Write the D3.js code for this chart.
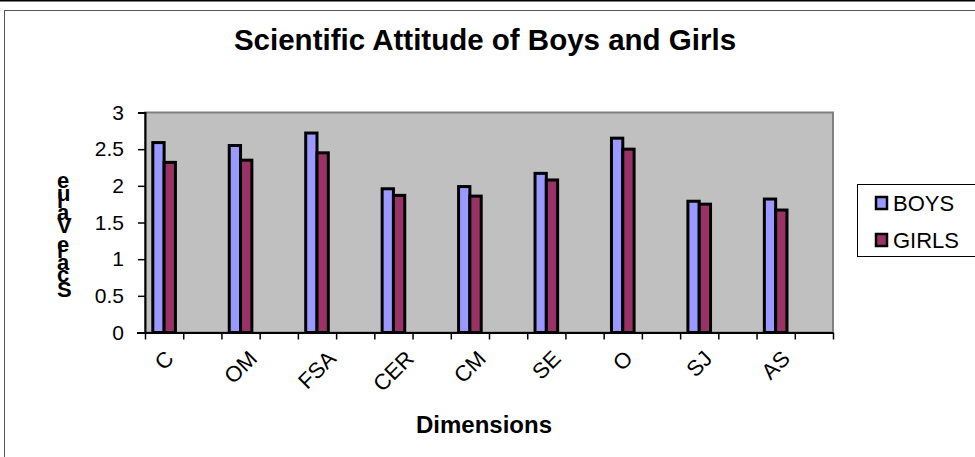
<!DOCTYPE html>
<html>
<head>
<meta charset="utf-8">
<script src="https://cdn.jsdelivr.net/npm/d3@7"></script>
<style>
  html, body { margin: 0; padding: 0; background: #fff; }
  svg { display: block; font-family: Arial, "Liberation Sans", sans-serif; }
</style>
</head>
<body>
<svg id="chart" width="975" height="457"></svg>
<script>
// data
const categories = ["C", "OM", "FSA", "CER", "CM", "SE", "O", "SJ", "AS"];
const seriesNames = ["BOYS", "GIRLS"];
const boys = [2.59, 2.55, 2.72, 1.96, 1.99, 2.17, 2.65, 1.79, 1.82];
const girls = [2.32, 2.35, 2.45, 1.87, 1.86, 2.08, 2.50, 1.75, 1.67];
const yTicks = [0, 0.5, 1, 1.5, 2, 2.5, 3];
const colors = ["#9999ff", "#993366"];

const svg = d3.select("#chart");

// outer frame
svg.append("line").attr("x1", 0).attr("x2", 975).attr("y1", 0.75).attr("y2", 0.75)
  .attr("stroke", "#000").attr("stroke-width", 1.5);
svg.append("rect").attr("x", 4.5).attr("y", 10.5).attr("width", 1000).attr("height", 500)
  .attr("fill", "#fff").attr("stroke", "#555").attr("stroke-width", 1);

const plot = { left: 145, right: 833, top: 112.5, bottom: 332.5 };

// each category is followed by an empty slot (as in the original sheet)
const slots = categories.flatMap((c, i) => [c, "_gap" + i]);

const x = d3.scaleBand().domain(slots).range([plot.left, plot.right]).padding(0);
const xSub = d3.scaleBand().domain(seriesNames).range([0, x.bandwidth()])
  .paddingInner(0).paddingOuter(0.69);
const y = d3.scaleLinear().domain([0, 3]).range([plot.bottom, plot.top]);

// plot area
svg.append("rect")
  .attr("x", plot.left).attr("y", plot.top)
  .attr("width", plot.right - plot.left).attr("height", plot.bottom - plot.top)
  .attr("fill", "#c0c0c0").attr("stroke", "#808080").attr("stroke-width", 2);

// bars
const rows = categories.map((c, i) => ({ cat: c, values: [boys[i], girls[i]] }));
const groups = svg.append("g").selectAll("g")
  .data(rows)
  .join("g")
  .attr("transform", d => `translate(${x(d.cat)},0)`);

groups.selectAll("rect")
  .data(d => d.values.map((v, k) => ({ name: seriesNames[k], v: v, k: k })))
  .join("rect")
  .attr("x", d => xSub(d.name))
  .attr("y", d => y(d.v))
  .attr("width", xSub.bandwidth())
  .attr("height", d => y(0) - y(d.v))
  .attr("fill", d => colors[d.k])
  .attr("stroke", "#000")
  .attr("stroke-width", 3)
  .attr("stroke-linejoin", "miter");

// y axis
const yAxis = svg.append("g")
  .attr("transform", `translate(${plot.left},0)`)
  .call(d3.axisLeft(y).tickValues(yTicks).tickFormat(d3.format("")).tickSize(7).tickPadding(14));
yAxis.select(".domain").attr("stroke", "#000").attr("stroke-width", 2);
yAxis.selectAll(".tick line").attr("stroke", "#000").attr("stroke-width", 1.5);
yAxis.selectAll(".tick text").attr("font-size", 21).attr("fill", "#000")
  .attr("font-family", "Arial, 'Liberation Sans', sans-serif");

// x axis: tick marks at every slot boundary
const xEdges = d3.scaleLinear().domain([0, slots.length]).range([plot.left, plot.right]);
const xAxis = svg.append("g")
  .attr("transform", `translate(0,${plot.bottom})`)
  .call(d3.axisBottom(xEdges).tickValues(d3.range(slots.length + 1)).tickFormat("").tickSize(7).tickSizeOuter(0));
xAxis.select(".domain").attr("stroke", "#000").attr("stroke-width", 2)
  .attr("d", `M${plot.left - 8},0.5H${plot.right}`);
xAxis.selectAll(".tick line").attr("stroke", "#000").attr("stroke-width", 1.5);

// rotated category labels
const labels = svg.append("g").selectAll("text")
  .data(categories)
  .join("text")
  .attr("font-size", 22)
  .attr("fill", "#000")
  .attr("text-anchor", "middle")
  .attr("dominant-baseline", "central")
  .text(d => d);
labels.attr("transform", function(d) {
  const L = this.getComputedTextLength();
  const h = 16;
  const cx = x(d) + x.bandwidth() / 2;
  const cy = 349 + (L + h) * 0.3536;
  return `translate(${cx},${cy}) rotate(-45)`;
});

// titles
svg.append("text")
  .attr("x", 485).attr("y", 50)
  .attr("text-anchor", "middle")
  .attr("font-size", 29.5).attr("font-weight", "bold")
  .text("Scientific Attitude of Boys and Girls");

svg.append("text")
  .attr("x", 484).attr("y", 433)
  .attr("text-anchor", "middle")
  .attr("font-size", 24).attr("font-weight", "bold")
  .text("Dimensions");

// y title: upright glyphs running bottom to top, as in the original
svg.append("text")
  .attr("transform", "translate(57,297) rotate(-90)")
  .attr("rotate", 90)
  .attr("font-size", 22).attr("font-weight", "bold")
  .text("Scale Value");

// legend
const legend = svg.append("g");
legend.append("rect")
  .attr("x", 857.5).attr("y", 184.5).attr("width", 140).attr("height", 72)
  .attr("fill", "#fff").attr("stroke", "#000").attr("stroke-width", 1);
const items = legend.selectAll("g")
  .data(seriesNames)
  .join("g")
  .attr("transform", (d, i) => `translate(876,${197 + i * 37})`);
items.append("rect")
  .attr("width", 11).attr("height", 12)
  .attr("fill", (d, i) => colors[i])
  .attr("stroke", "#000").attr("stroke-width", 2.5);
items.append("text")
  .attr("x", 17).attr("y", 6)
  .attr("dominant-baseline", "central")
  .attr("font-size", 22)
  .text(d => d);
</script>
</body>
</html>
